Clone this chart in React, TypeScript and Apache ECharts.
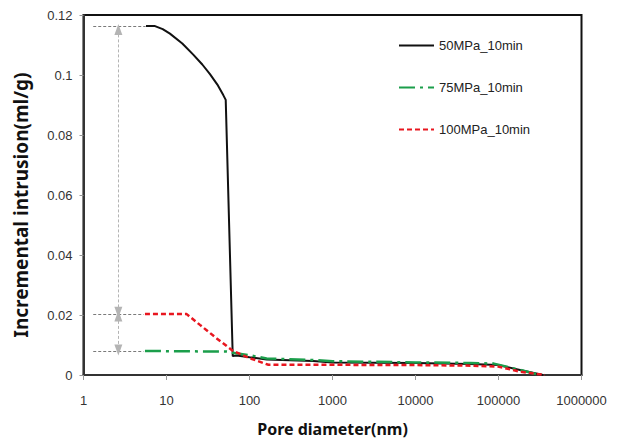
import React, { useEffect, useRef } from "react";
import * as echarts from "echarts";

// Pore diameter (nm) / incremental intrusion (ml/g)
const blackX = [5.66, 7.27, 9.0, 11.0, 15.5, 21.0, 27.0, 33.4, 41.0, 48.3, 51.7, 62.8, 70, 100, 161, 582, 1000, 10000, 45400, 100000, 181600, 343600];
const blackY = [0.1163, 0.1163, 0.1153, 0.1138, 0.1105, 0.1068, 0.1035, 0.1003, 0.0968, 0.0933, 0.0917, 0.0063, 0.0065, 0.0059, 0.0052, 0.0047, 0.0042, 0.004, 0.0037, 0.0033, 0.0017, 0];

const greenX = [5.5, 53, 62.8, 100, 161, 582, 1000, 10000, 45400, 88000, 181600, 316000];
const greenY = [0.008, 0.0078, 0.0074, 0.0066, 0.0055, 0.005, 0.0046, 0.0042, 0.004, 0.0038, 0.0017, 0];

const redX = [5.5, 17.5, 25.3, 40.3, 62.8, 101, 169, 1000, 10000, 50000, 99000, 181600, 363000];
const redY = [0.0203, 0.0203, 0.0167, 0.0122, 0.0081, 0.0056, 0.0034, 0.0034, 0.0033, 0.0031, 0.0028, 0.0011, 0];

const seriesNames = ["50MPa_10min", "75MPa_10min", "100MPa_10min"];
const xTicks = [1, 10, 100, 1000, 10000, 100000, 1000000];
const yTicks = [0, 0.02, 0.04, 0.06, 0.08, 0.1, 0.12];

// guide annotations
const guideLevels = [0.1163, 0.0203, 0.008];
const guideStartX = [1.31, 1.31, 1.31];
const guideEndX = [5.6, 5.3, 5.3];
const arrowX = 2.63;
const arrowSpans = [
  [0.1152, 0.0209],
  [0.0197, 0.0083],
];

const zip = (xs: number[], ys: number[]) => xs.map((x, i) => [x, ys[i]]);

export default function App() {
  const ref = useRef<HTMLDivElement>(null);
  useEffect(() => {
    if (!ref.current) return;
    const chart = echarts.init(ref.current, null, { renderer: "svg" });
    const hLines = guideLevels.map((lv, i) => [
      {
        coord: [guideStartX[i], lv],
        symbol: "none",
        lineStyle: { color: "#7a7a7a", type: [3, 2], width: 1 },
      },
      { coord: [guideEndX[i], lv], symbol: "none" },
    ]);
    const vLines = arrowSpans.map((s) => [
      {
        coord: [arrowX, s[0]],
        symbol: "triangle",
        symbolSize: [8, 11],
        symbolRotate: 0,
        lineStyle: { color: "#b4b4b4", type: [3, 2], width: 1 },
      },
      { coord: [arrowX, s[1]], symbol: "triangle", symbolSize: [8, 11], symbolRotate: 180 },
    ]);
    chart.setOption({
      animation: false,
      grid: {
        left: 83.5,
        right: 40.5,
        top: 15,
        bottom: 72,
        show: true,
        borderColor: "#111",
        borderWidth: 2,
      },
      legend: {
        data: seriesNames,
        orient: "vertical",
        left: 398,
        top: 39,
        padding: 0,
        itemWidth: 35,
        itemHeight: 14,
        itemGap: 29,
        itemStyle: { opacity: 0 },
        textStyle: { fontSize: 13, color: "#222", fontFamily: "Liberation Sans" },
      },
      xAxis: {
        type: "log",
        logBase: 10,
        min: xTicks[0],
        max: xTicks[xTicks.length - 1],
        name: "Pore diameter(nm)",
        nameLocation: "middle",
        nameGap: 46,
        nameTextStyle: { fontSize: 16, fontWeight: "bold", color: "#111", fontFamily: "Noto Sans" },
        axisLine: { lineStyle: { color: "#333", width: 2 } },
        axisTick: { show: true, length: 5, lineStyle: { color: "#999" } },
        axisLabel: {
          margin: 19,
          fontSize: 13,
          color: "#333",
          fontFamily: "Liberation Sans",
          formatter: (v: number) => String(Math.round(v)),
        },
        splitLine: { show: false },
        minorTick: { show: false },
      },
      yAxis: {
        type: "value",
        min: yTicks[0],
        max: yTicks[yTicks.length - 1],
        interval: 0.02,
        name: "Incremental intrusion(ml/g)",
        nameLocation: "middle",
        nameGap: 53,
        nameTextStyle: {
          fontSize: 19,
          fontWeight: "bold",
          color: "#111",
          fontFamily: "Noto Sans",
          padding: [0, 20, 0, 0],
        },
        axisLine: { show: true, lineStyle: { color: "#333", width: 2 } },
        axisTick: { show: true, length: 4, lineStyle: { color: "#999" } },
        axisLabel: {
          margin: 11,
          fontSize: 13,
          color: "#333",
          fontFamily: "Liberation Sans",
          formatter: (v: number) => String(parseFloat(v.toFixed(2))),
        },
        splitLine: { show: false },
      },
      series: [
        {
          name: seriesNames[0],
          type: "line",
          data: zip(blackX, blackY),
          symbol: "none",
          lineStyle: { color: "#111", width: 2 },
          itemStyle: { color: "#111" },
          markLine: {
            silent: true,
            animation: false,
            label: { show: false },
            emphasis: { disabled: true },
            data: [...hLines, ...vLines],
          },
        },
        {
          name: seriesNames[1],
          type: "line",
          data: zip(greenX, greenY),
          symbol: "none",
          lineStyle: { color: "#1b9e4b", width: 2.5, type: [16, 5, 3, 5] },
          itemStyle: { color: "#1b9e4b" },
        },
        {
          name: seriesNames[2],
          type: "line",
          data: zip(redX, redY),
          symbol: "none",
          lineStyle: { color: "#e8161f", width: 2.5, type: [5, 3] },
          itemStyle: { color: "#e8161f" },
        },
      ],
    });
    return () => chart.dispose();
  }, []);
  return (
    <div
      ref={ref}
      style={{ position: "fixed", left: 0, top: 0, width: 622, height: 447, background: "#fff" }}
    />
  );
}
